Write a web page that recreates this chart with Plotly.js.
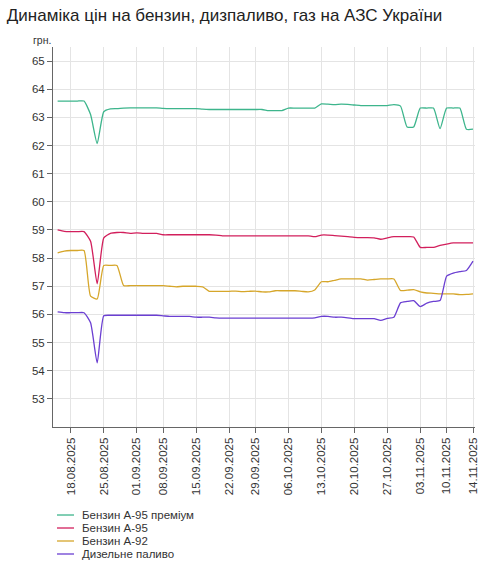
<!DOCTYPE html>
<html>
<head>
<meta charset="utf-8">
<script src="https://cdn.plot.ly/plotly-3.0.1.min.js"></script>
<style>
html,body{margin:0;padding:0;background:#fff;}
#chart{width:490px;height:573px;}
</style>
</head>
<body>
<div id="chart"></div>
<script>
const dates = [
  "14.08.2025","15.08.2025",
  "18.08.2025","19.08.2025","20.08.2025","21.08.2025","22.08.2025",
  "25.08.2025","26.08.2025","27.08.2025","28.08.2025","29.08.2025",
  "01.09.2025","02.09.2025","03.09.2025","04.09.2025",
  "08.09.2025","09.09.2025","10.09.2025","11.09.2025","12.09.2025",
  "15.09.2025","16.09.2025","17.09.2025","18.09.2025","19.09.2025",
  "22.09.2025","23.09.2025","24.09.2025","25.09.2025",
  "29.09.2025","30.09.2025","01.10.2025","02.10.2025","03.10.2025",
  "06.10.2025","07.10.2025","08.10.2025","09.10.2025","10.10.2025",
  "13.10.2025","14.10.2025","15.10.2025","16.10.2025","17.10.2025",
  "20.10.2025","21.10.2025","22.10.2025","23.10.2025","24.10.2025",
  "27.10.2025","28.10.2025","29.10.2025","30.10.2025","31.10.2025",
  "03.11.2025","04.11.2025","05.11.2025","06.11.2025",
  "10.11.2025","11.11.2025","12.11.2025","13.11.2025","14.11.2025"
];

const tickDates = ["18.08.2025","25.08.2025","01.09.2025","08.09.2025","15.09.2025","22.09.2025",
  "29.09.2025","06.10.2025","13.10.2025","20.10.2025","27.10.2025","03.11.2025","10.11.2025","14.11.2025"];

const yTicks = [53,54,55,56,57,58,59,60,61,62,63,64,65];

const premium95 = [
  63.58,63.58,63.58,63.58,63.58,63.10,62.07,
  63.20,63.30,63.31,63.33,63.34,
  63.34,63.34,63.34,63.34,
  63.32,63.31,63.31,63.31,63.31,
  63.31,63.29,63.28,63.28,63.28,
  63.28,63.28,63.28,63.28,
  63.28,63.28,63.24,63.24,63.24,
  63.33,63.33,63.33,63.33,63.33,
  63.48,63.47,63.45,63.47,63.46,
  63.44,63.42,63.42,63.42,63.42,
  63.42,63.45,63.40,62.66,62.66,
  63.33,63.33,63.33,62.60,
  63.33,63.33,63.33,62.58,62.58
];

const a95 = [
  59.00,58.95,58.94,58.94,58.94,58.60,57.09,
  58.72,58.88,58.91,58.91,58.88,
  58.90,58.88,58.88,58.88,
  58.83,58.83,58.83,58.83,58.83,
  58.83,58.83,58.83,58.82,58.79,
  58.79,58.79,58.79,58.79,
  58.79,58.79,58.79,58.79,58.79,
  58.79,58.79,58.79,58.79,58.76,
  58.82,58.82,58.80,58.78,58.76,
  58.74,58.73,58.73,58.72,58.67,
  58.72,58.76,58.76,58.76,58.75,
  58.38,58.38,58.38,58.45,
  58.50,58.54,58.54,58.54,58.54
];

const a92 = [
  58.19,58.25,58.27,58.27,58.27,56.65,56.55,
  57.74,57.74,57.74,57.03,57.02,
  57.02,57.02,57.02,57.02,
  57.02,57.00,56.98,57.00,57.00,
  57.00,56.98,56.82,56.82,56.82,
  56.82,56.83,56.81,56.82,
  56.83,56.80,56.80,56.84,56.84,
  56.84,56.84,56.82,56.80,56.87,
  57.16,57.16,57.21,57.26,57.26,
  57.26,57.26,57.22,57.24,57.26,
  57.26,57.26,56.85,56.86,56.88,
  56.80,56.76,56.75,56.73,
  56.73,56.73,56.70,56.71,56.73
];

const diesel = [
  56.09,56.06,56.06,56.06,56.06,55.70,54.28,
  55.95,55.97,55.97,55.97,55.97,
  55.97,55.97,55.97,55.97,
  55.95,55.93,55.93,55.93,55.93,
  55.90,55.90,55.90,55.88,55.87,
  55.87,55.87,55.87,55.87,
  55.87,55.87,55.87,55.87,55.87,
  55.87,55.87,55.87,55.87,55.88,
  55.93,55.93,55.90,55.90,55.88,
  55.85,55.85,55.85,55.85,55.79,
  55.86,55.90,56.41,56.46,56.49,
  56.28,56.40,56.46,56.49,
  57.36,57.47,57.52,57.56,57.89
];

const seriesNames = ["Бензин А-95 преміум","Бензин А-95","Бензин А-92","Дизельне паливо"];
const seriesValues = [premium95, a95, a92, diesel];
const seriesColors = ["#3db58c","#d21f5c","#d6a62a","#6b3fd2"];

const font = "Liberation Sans, Arial, sans-serif";

const traces = seriesValues.map((vals, k) => ({
  type: "scatter",
  mode: "lines",
  x: dates,
  y: vals,
  name: seriesNames[k],
  line: {color: seriesColors[k], width: 1.3, shape: "spline", smoothing: 0.5},
  showlegend: false,
  hoverinfo: "x+y+name"
}));

const shapes = [];
const annotations = [{
  text: "грн.", xref: "paper", yref: "paper", x: 0, y: 1.018,
  xanchor: "right", yanchor: "middle", showarrow: false,
  font: {family: font, size: 10.5, color: "#333"}
}];
seriesNames.forEach((nm, k) => {
  const yy = -0.2316 - k * 0.0342;
  shapes.push({type: "line", xref: "paper", yref: "paper",
    x0: 0.0095, x1: 0.0498, y0: yy, y1: yy,
    line: {color: seriesColors[k], width: 1.3}});
  annotations.push({text: nm, xref: "paper", yref: "paper", x: 0.064, y: yy,
    xanchor: "left", yanchor: "middle", showarrow: false,
    font: {family: font, size: 11.5, color: "#333"}});
});

const layout = {
  width: 490, height: 573,
  margin: {l: 53, r: 15, t: 47, b: 146},
  paper_bgcolor: "#fff", plot_bgcolor: "#fff",
  font: {family: font, color: "#333"},
  title: {
    text: "Динаміка цін на бензин, дизпаливо, газ на АЗС України",
    x: 0.014, xref: "container", xanchor: "left",
    y: 0.974, yref: "container", yanchor: "middle",
    font: {family: font, size: 17, color: "#222"}
  },
  xaxis: {
    type: "category",
    categoryorder: "array", categoryarray: dates,
    range: [-0.7, 63.3],
    tickmode: "array", tickvals: tickDates, ticktext: tickDates,
    tickangle: -90,
    tickfont: {family: font, size: 11.5, color: "#333"},
    showgrid: true, gridcolor: "#e4e4e4", gridwidth: 1,
    showline: true, linecolor: "#666", linewidth: 1,
    ticks: "outside", ticklen: 5, tickcolor: "#666",
    zeroline: false, fixedrange: true
  },
  yaxis: {
    range: [52, 65.5],
    tickmode: "array", tickvals: yTicks, ticktext: yTicks.map(String),
    tickfont: {family: font, size: 11.5, color: "#333"},
    showgrid: true, gridcolor: "#e4e4e4", gridwidth: 1,
    showline: true, linecolor: "#666", linewidth: 1,
    ticks: "outside", ticklen: 5, tickcolor: "#666",
    zeroline: false, fixedrange: true
  },
  shapes: shapes,
  annotations: annotations
};

Plotly.newPlot("chart", traces, layout, {displayModeBar: false, staticPlot: true});
</script>
</body>
</html>
